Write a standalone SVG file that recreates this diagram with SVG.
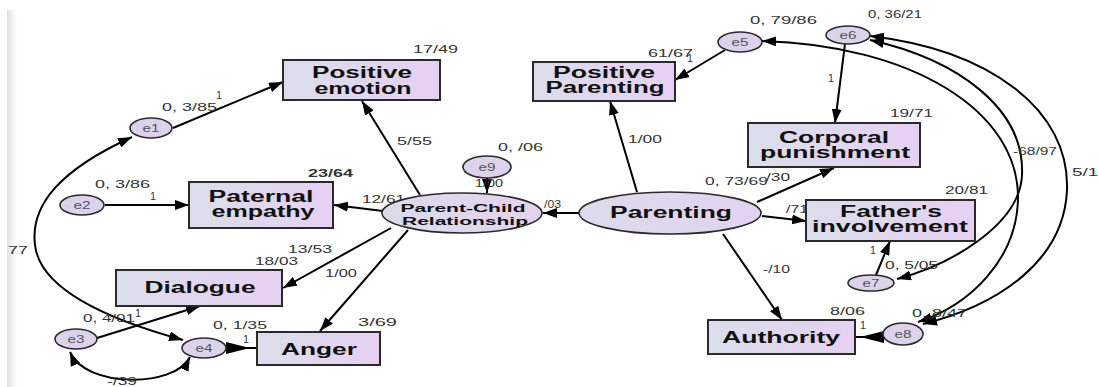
<svg xmlns="http://www.w3.org/2000/svg" width="1099" height="387" viewBox="0 0 1099 387">
<style>
.box{stroke:#2a2a2a;stroke-width:2;fill:url(#gbox)}
.lat{stroke:#2a2a2a;stroke-width:1.6;fill:url(#gell)}
.err{stroke:#2a2a2a;stroke-width:1.6;fill:#dcd2ec}
.c{fill:none;stroke:#000;stroke-width:2}
.a{fill:none;stroke:#000;stroke-width:2;marker-end:url(#ah)}
.d{fill:none;stroke:#000;stroke-width:2;marker-start:url(#ah);marker-end:url(#ah)}
.n{font-family:"Liberation Sans",Arial,sans-serif;font-weight:bold;font-size:16px;fill:#111;text-anchor:middle}
.p{font-family:"Liberation Sans",Arial,sans-serif;font-weight:bold;font-size:11.5px;fill:#111;text-anchor:middle}
.e{font-family:"Liberation Sans",Arial,sans-serif;font-size:11px;fill:#555;text-anchor:middle}
.l{font-family:"Liberation Sans",Arial,sans-serif;font-size:11px;fill:#333}
.b{font-family:"Liberation Sans",Arial,sans-serif;font-size:11px;font-weight:bold;fill:#333}
</style>
<defs>
<linearGradient id="gbox" x1="0" y1="0" x2="1" y2="0"><stop offset="0" stop-color="#dadeea"/><stop offset="1" stop-color="#e6d0f2"/></linearGradient>
<linearGradient id="gell" x1="0" y1="0" x2="1" y2="0"><stop offset="0" stop-color="#dcdbea"/><stop offset="1" stop-color="#e4d2f0"/></linearGradient>
<linearGradient id="gstrip" x1="0" y1="0" x2="1" y2="0"><stop offset="0" stop-color="#e2e2e2"/><stop offset="1" stop-color="#ffffff"/></linearGradient>
<marker id="ah" viewBox="0 0 14 10" refX="14" refY="5" markerWidth="14" markerHeight="10" markerUnits="userSpaceOnUse" orient="auto-start-reverse"><path d="M0,0 L14,5 L0,10 z" fill="#000"/></marker>
</defs>
<rect x="0" y="0" width="1099" height="387" fill="#fff"/>
<rect x="7" y="10" width="10" height="377" fill="url(#gstrip)"/>

<g id="labels-under">
<text class="l" x="786" y="213" textLength="22" lengthAdjust="spacingAndGlyphs">/71</text>
<text class="l" x="544" y="208" textLength="17" lengthAdjust="spacingAndGlyphs">/03</text>
<text class="l" x="362" y="203" textLength="43" lengthAdjust="spacingAndGlyphs">12/61</text>
</g>

<g id="connectors">
<path class="a" d="M173,128 L283,82"/>
<path class="d" d="M132,137 C60,170 30,205 35,245 C40,290 110,320 183,340"/>
<path class="a" d="M105,205 L189,205"/>
<path class="a" d="M383,211 L334,205"/>
<path class="a" d="M420,195 L362,101"/>
<path class="a" d="M487,178 L487,193"/>
<path class="a" d="M579,213 L543,213"/>
<path class="a" d="M391,228 L283,288"/>
<path class="a" d="M408,230 L320,331"/>
<path class="c" d="M226,348 L257,348"/>
<polygon points="226,342 250,348 226,354" fill="#000"/>
<path class="a" d="M97,338 L200,306"/>
<path class="d" d="M70,352 C85,388 175,388 190,357"/>
<path class="a" d="M637,192 L610,101"/>
<path class="a" d="M725,50 L675,80"/>
<path class="a" d="M845,44 L835,123"/>
<path class="a" d="M757,202 L834,168"/>
<path class="a" d="M762,216 L806,221"/>
<path class="a" d="M876,275 L890,241"/>
<path class="a" d="M723,234 L782,320"/>
<path class="c" d="M855,337 L884,337"/>
<polygon points="884,331 860,337 884,343" fill="#000"/>
<path class="d" d="M762,41 C910,45 1020,110 1018,200 C1016,260 970,305 918,322"/>
<path class="d" d="M870,40 C960,60 1025,110 1022,175 C1020,225 950,265 897,279"/>
<path class="d" d="M870,36 C990,50 1070,110 1067,190 C1064,260 1000,305 923,324"/>
</g>

<g id="positive-emotion"><rect class="box" x="283" y="60" width="157" height="40"/>
<text class="n" x="362" y="78" textLength="100" lengthAdjust="spacingAndGlyphs">Positive</text>
<text class="n" x="363" y="94" textLength="97" lengthAdjust="spacingAndGlyphs">emotion</text></g>
<g id="positive-parenting"><rect class="box" x="533" y="62" width="142" height="39"/>
<text class="n" x="604" y="78" textLength="102" lengthAdjust="spacingAndGlyphs">Positive</text>
<text class="n" x="605" y="93" textLength="119" lengthAdjust="spacingAndGlyphs">Parenting</text></g>
<g id="paternal-empathy"><rect class="box" x="189" y="182" width="144" height="46"/>
<text class="n" x="261" y="202" textLength="105" lengthAdjust="spacingAndGlyphs">Paternal</text>
<text class="n" x="263" y="217" textLength="103" lengthAdjust="spacingAndGlyphs">empathy</text></g>
<g id="dialogue"><rect class="box" x="116" y="270" width="166" height="36"/>
<text class="n" x="200" y="293" textLength="111" lengthAdjust="spacingAndGlyphs">Dialogue</text></g>
<g id="anger"><rect class="box" x="257" y="332" width="123" height="33"/>
<text class="n" x="319" y="355" textLength="76" lengthAdjust="spacingAndGlyphs">Anger</text></g>
<g id="corporal-punishment"><rect class="box" x="748" y="123" width="172" height="44"/>
<text class="n" x="834" y="143" textLength="110" lengthAdjust="spacingAndGlyphs">Corporal</text>
<text class="n" x="835" y="158" textLength="150" lengthAdjust="spacingAndGlyphs">punishment</text></g>
<g id="fathers-involvement"><rect class="box" x="806" y="200" width="169" height="41"/>
<text class="n" x="891" y="217" textLength="102" lengthAdjust="spacingAndGlyphs">Father's</text>
<text class="n" x="890" y="232" textLength="156" lengthAdjust="spacingAndGlyphs">involvement</text></g>
<g id="authority"><rect class="box" x="708" y="320" width="147" height="34"/>
<text class="n" x="781" y="343" textLength="118" lengthAdjust="spacingAndGlyphs">Authority</text></g>

<g id="parent-child-relationship"><ellipse class="lat" cx="462" cy="213" rx="80" ry="20"/>
<text class="p" x="463" y="212" textLength="125" lengthAdjust="spacingAndGlyphs">Parent-Child</text>
<text class="p" x="465" y="225" textLength="126" lengthAdjust="spacingAndGlyphs">Relationship</text></g>
<g id="parenting"><ellipse class="lat" cx="670" cy="213" rx="91" ry="21"/>
<text class="n" x="671" y="218" textLength="122" lengthAdjust="spacingAndGlyphs">Parenting</text></g>

<g id="e1"><ellipse class="err" cx="151" cy="128" rx="21" ry="10"/><text class="e" x="151" y="132" textLength="17" lengthAdjust="spacingAndGlyphs">e1</text></g>
<g id="e2"><ellipse class="err" cx="82" cy="205" rx="22" ry="10"/><text class="e" x="82" y="209" textLength="17" lengthAdjust="spacingAndGlyphs">e2</text></g>
<g id="e3"><ellipse class="err" cx="76" cy="339" rx="21" ry="10"/><text class="e" x="76" y="343" textLength="17" lengthAdjust="spacingAndGlyphs">e3</text></g>
<g id="e4"><ellipse class="err" cx="204" cy="348" rx="22" ry="10"/><text class="e" x="204" y="352" textLength="17" lengthAdjust="spacingAndGlyphs">e4</text></g>
<g id="e5"><ellipse class="err" cx="740" cy="42" rx="22" ry="10"/><text class="e" x="740" y="46" textLength="17" lengthAdjust="spacingAndGlyphs">e5</text></g>
<g id="e6"><ellipse class="err" cx="848" cy="35" rx="22" ry="9"/><text class="e" x="848" y="39" textLength="17" lengthAdjust="spacingAndGlyphs">e6</text></g>
<g id="e7"><ellipse class="err" cx="871" cy="283" rx="23" ry="8"/><text class="e" x="871" y="287" textLength="17" lengthAdjust="spacingAndGlyphs">e7</text></g>
<g id="e8"><ellipse class="err" cx="903" cy="334" rx="20" ry="11"/><text class="e" x="903" y="338" textLength="17" lengthAdjust="spacingAndGlyphs">e8</text></g>
<g id="e9"><ellipse class="err" cx="487" cy="167" rx="24" ry="11"/><text class="e" x="487" y="171" textLength="17" lengthAdjust="spacingAndGlyphs">e9</text></g>

<g id="labels">
<text class="l" x="413" y="53" textLength="45" lengthAdjust="spacingAndGlyphs">17/49</text>
<text class="l" x="162" y="111" textLength="55" lengthAdjust="spacingAndGlyphs">0, 3/85</text>
<text class="l" x="216" y="99" textLength="6" lengthAdjust="spacingAndGlyphs">1</text>
<text class="b" x="308" y="177" textLength="45" lengthAdjust="spacingAndGlyphs">23/64</text>
<text class="l" x="95" y="188" textLength="55" lengthAdjust="spacingAndGlyphs">0, 3/86</text>
<text class="l" x="150" y="200" textLength="6" lengthAdjust="spacingAndGlyphs">1</text>
<text class="l" x="8" y="254" textLength="20" lengthAdjust="spacingAndGlyphs">77</text>
<text class="l" x="288" y="253" textLength="44" lengthAdjust="spacingAndGlyphs">13/53</text>
<text class="l" x="255" y="265" textLength="43" lengthAdjust="spacingAndGlyphs">18/03</text>
<text class="l" x="325" y="277" textLength="32" lengthAdjust="spacingAndGlyphs">1/00</text>
<text class="l" x="83" y="322" textLength="52" lengthAdjust="spacingAndGlyphs">0, 4/01</text>
<text class="l" x="135" y="317" textLength="6" lengthAdjust="spacingAndGlyphs">1</text>
<text class="l" x="213" y="329" textLength="54" lengthAdjust="spacingAndGlyphs">0, 1/35</text>
<text class="l" x="243" y="343" textLength="6" lengthAdjust="spacingAndGlyphs">1</text>
<text class="l" x="358" y="326" textLength="39" lengthAdjust="spacingAndGlyphs">3/69</text>
<text class="l" x="107" y="385" textLength="30" lengthAdjust="spacingAndGlyphs">-/39</text>
<text class="l" x="397" y="145" textLength="35" lengthAdjust="spacingAndGlyphs">5/55</text>
<text class="l" x="498" y="151" textLength="45" lengthAdjust="spacingAndGlyphs">0, /06</text>
<text class="l" x="475" y="187" textLength="28" lengthAdjust="spacingAndGlyphs">1/00</text>
<text class="l" x="648" y="57" textLength="45" lengthAdjust="spacingAndGlyphs">61/67</text>
<text class="l" x="687" y="62" textLength="6" lengthAdjust="spacingAndGlyphs">1</text>
<text class="l" x="628" y="143" textLength="34" lengthAdjust="spacingAndGlyphs">1/00</text>
<text class="l" x="750" y="24" textLength="67" lengthAdjust="spacingAndGlyphs">0, 79/86</text>
<text class="l" x="868" y="18" textLength="54" lengthAdjust="spacingAndGlyphs">0, 36/21</text>
<text class="l" x="828" y="82" textLength="6" lengthAdjust="spacingAndGlyphs">1</text>
<text class="l" x="890" y="117" textLength="43" lengthAdjust="spacingAndGlyphs">19/71</text>
<text class="l" x="705" y="185" textLength="63" lengthAdjust="spacingAndGlyphs">0, 73/69</text>
<text class="l" x="766" y="181" textLength="24" lengthAdjust="spacingAndGlyphs">/30</text>
<text class="l" x="945" y="194" textLength="43" lengthAdjust="spacingAndGlyphs">20/81</text>
<text class="l" x="1013" y="155" textLength="44" lengthAdjust="spacingAndGlyphs">-68/97</text>
<text class="l" x="1072" y="176" textLength="37" lengthAdjust="spacingAndGlyphs">5/14</text>
<text class="l" x="870" y="254" textLength="6" lengthAdjust="spacingAndGlyphs">1</text>
<text class="l" x="885" y="269" textLength="53" lengthAdjust="spacingAndGlyphs">0, 5/05</text>
<text class="l" x="763" y="273" textLength="27" lengthAdjust="spacingAndGlyphs">-/10</text>
<text class="l" x="830" y="315" textLength="35" lengthAdjust="spacingAndGlyphs">8/06</text>
<text class="l" x="860" y="329" textLength="6" lengthAdjust="spacingAndGlyphs">1</text>
<text class="l" x="912" y="317" textLength="55" lengthAdjust="spacingAndGlyphs">0, 8/47</text>
</g>
</svg>
